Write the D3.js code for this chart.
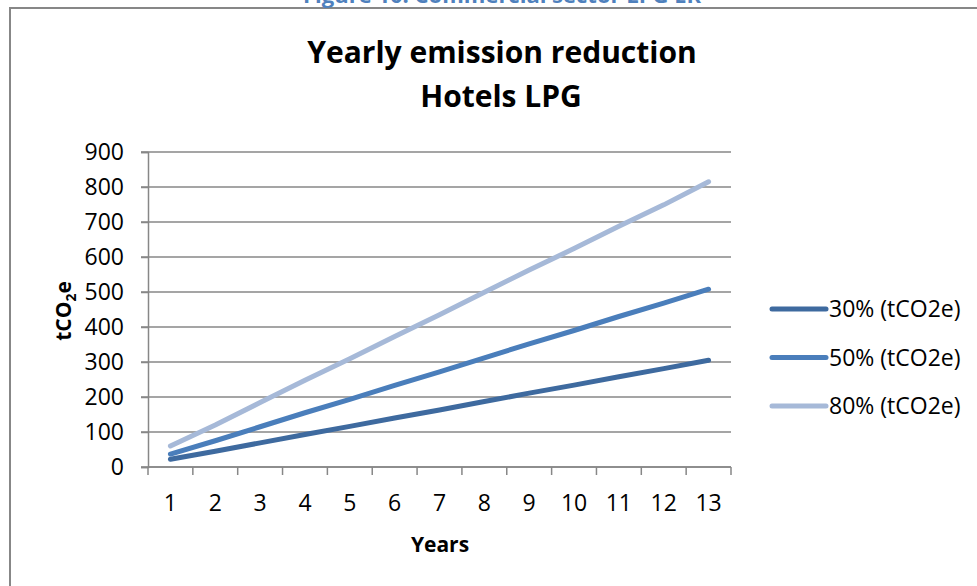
<!DOCTYPE html>
<html>
<head>
<meta charset="utf-8">
<script src="https://cdn.jsdelivr.net/npm/d3@7"></script>
<style>
  html, body { margin: 0; padding: 0; background: #fff; }
  svg { display: block; }
  text { font-family: "Open Sans", "Liberation Sans", sans-serif; fill: #000; }
</style>
</head>
<body>
<svg id="chart" width="977" height="586"></svg>
<script>
// Years on the category axis
const years = [1, 2, 3, 4, 5, 6, 7, 8, 9, 10, 11, 12, 13];

// Yearly emission reduction (tCO2e) for each reduction scenario
const reduction30 = [22, 45, 69, 93, 116, 140, 163, 187, 211, 234, 258, 281, 305];
const reduction50 = [37, 75, 115, 155, 193, 233, 272, 312, 352, 390, 430, 468, 508];
const reduction80 = [60, 120, 184, 248, 309, 373, 435, 499, 563, 624, 688, 749, 815];

const seriesNames = ["30% (tCO2e)", "50% (tCO2e)", "80% (tCO2e)"];
const seriesColors = ["#3E6A9F", "#4A7EBB", "#A6B9D8"];
const yTicks = [0, 100, 200, 300, 400, 500, 600, 700, 800, 900];

const series = [reduction30, reduction50, reduction80].map((vals, i) => ({
  name: seriesNames[i],
  color: seriesColors[i],
  values: vals.map((v, j) => ({ year: years[j], value: v }))
}));

const svg = d3.select("#chart");
const gridColor = "#878787";
const labelSize = "23px";

// Outer frame of the chart area (open to the right and bottom)
svg.append("path")
  .attr("d", "M10,586 V8 H977")
  .attr("fill", "none")
  .attr("stroke", gridColor)
  .attr("stroke-width", 2);

// Caption above the frame
svg.append("text")
  .attr("x", 502).attr("y", 3)
  .attr("text-anchor", "middle")
  .style("font-size", "22px").style("font-weight", "bold")
  .style("fill", "#4F81BD")
  .text("Figure 10: Commercial sector LPG ER");

// Title
const title = svg.append("text")
  .attr("text-anchor", "middle")
  .style("font-size", "30px").style("font-weight", "bold");
title.append("tspan").attr("x", 502).attr("y", 63).text("Yearly emission reduction");
title.append("tspan").attr("x", 501).attr("y", 107).text("Hotels LPG");

const plot = { left: 148, right: 731, top: 152, bottom: 467 };

const x = d3.scaleBand().domain(years).range([plot.left, plot.right]);
const y = d3.scaleLinear().domain([0, 900]).range([plot.bottom, plot.top]);

// Horizontal gridlines
svg.append("g")
  .selectAll("line")
  .data(yTicks)
  .join("line")
  .attr("x1", plot.left - 7).attr("x2", plot.right)
  .attr("y1", d => y(d)).attr("y2", d => y(d))
  .attr("stroke", gridColor).attr("stroke-width", 1.5);

// Y axis
const yAxis = svg.append("g")
  .attr("transform", `translate(${plot.left},0)`)
  .call(d3.axisLeft(y).tickValues(yTicks).tickSize(7).tickPadding(17));
yAxis.select(".domain").attr("stroke", gridColor).attr("stroke-width", 1.5);
yAxis.selectAll(".tick line").attr("stroke", gridColor).attr("stroke-width", 1.5);
yAxis.selectAll(".tick text")
  .style("font-size", labelSize)
  .style("font-family", "'Open Sans', sans-serif")
  .attr("fill", "#000");

// X axis: ticks sit on the band boundaries, labels at band centres
const xAxisG = svg.append("g").attr("transform", `translate(0,${plot.bottom})`);
xAxisG.append("line")
  .attr("x1", plot.left).attr("x2", plot.right)
  .attr("stroke", gridColor).attr("stroke-width", 1.5);
const boundaries = years.map(d => x(d)).concat([x(years[years.length - 1]) + x.bandwidth()]);
xAxisG.selectAll("line.tk")
  .data(boundaries)
  .join("line")
  .attr("class", "tk")
  .attr("x1", d => d).attr("x2", d => d)
  .attr("y1", 0).attr("y2", 8)
  .attr("stroke", gridColor).attr("stroke-width", 1.5);
xAxisG.selectAll("text")
  .data(years)
  .join("text")
  .attr("x", d => x(d) + x.bandwidth() / 2)
  .attr("y", 44)
  .attr("text-anchor", "middle")
  .style("font-size", labelSize)
  .text(d => d);

// Axis titles
svg.append("text")
  .attr("x", 440).attr("y", 552)
  .attr("text-anchor", "middle")
  .style("font-size", "21px").style("font-weight", "bold")
  .text("Years");

const yTitle = svg.append("text")
  .attr("transform", "translate(71,311) rotate(-90)")
  .attr("text-anchor", "middle")
  .style("font-size", "21px").style("font-weight", "bold");
yTitle.append("tspan").text("tCO");
yTitle.append("tspan").attr("dy", 5).style("font-size", "14px").text("2");
yTitle.append("tspan").attr("dy", -5).text("e");

// Series lines
const line = d3.line()
  .x(d => x(d.year) + x.bandwidth() / 2)
  .y(d => y(d.value));

svg.append("g")
  .selectAll("path")
  .data(series)
  .join("path")
  .attr("d", d => line(d.values))
  .attr("fill", "none")
  .attr("stroke", d => d.color)
  .attr("stroke-width", 5)
  .attr("stroke-linecap", "round")
  .attr("stroke-linejoin", "round");

// Legend
const legend = svg.append("g")
  .selectAll("g")
  .data(series)
  .join("g")
  .attr("transform", (d, i) => `translate(772,${309 + i * 48.5})`);
legend.append("line")
  .attr("x1", 0).attr("x2", 54)
  .attr("stroke", d => d.color)
  .attr("stroke-width", 5)
  .attr("stroke-linecap", "round");
legend.append("text")
  .attr("x", 57).attr("y", 8)
  .style("font-size", labelSize)
  .text(d => d.name);
</script>
</body>
</html>
